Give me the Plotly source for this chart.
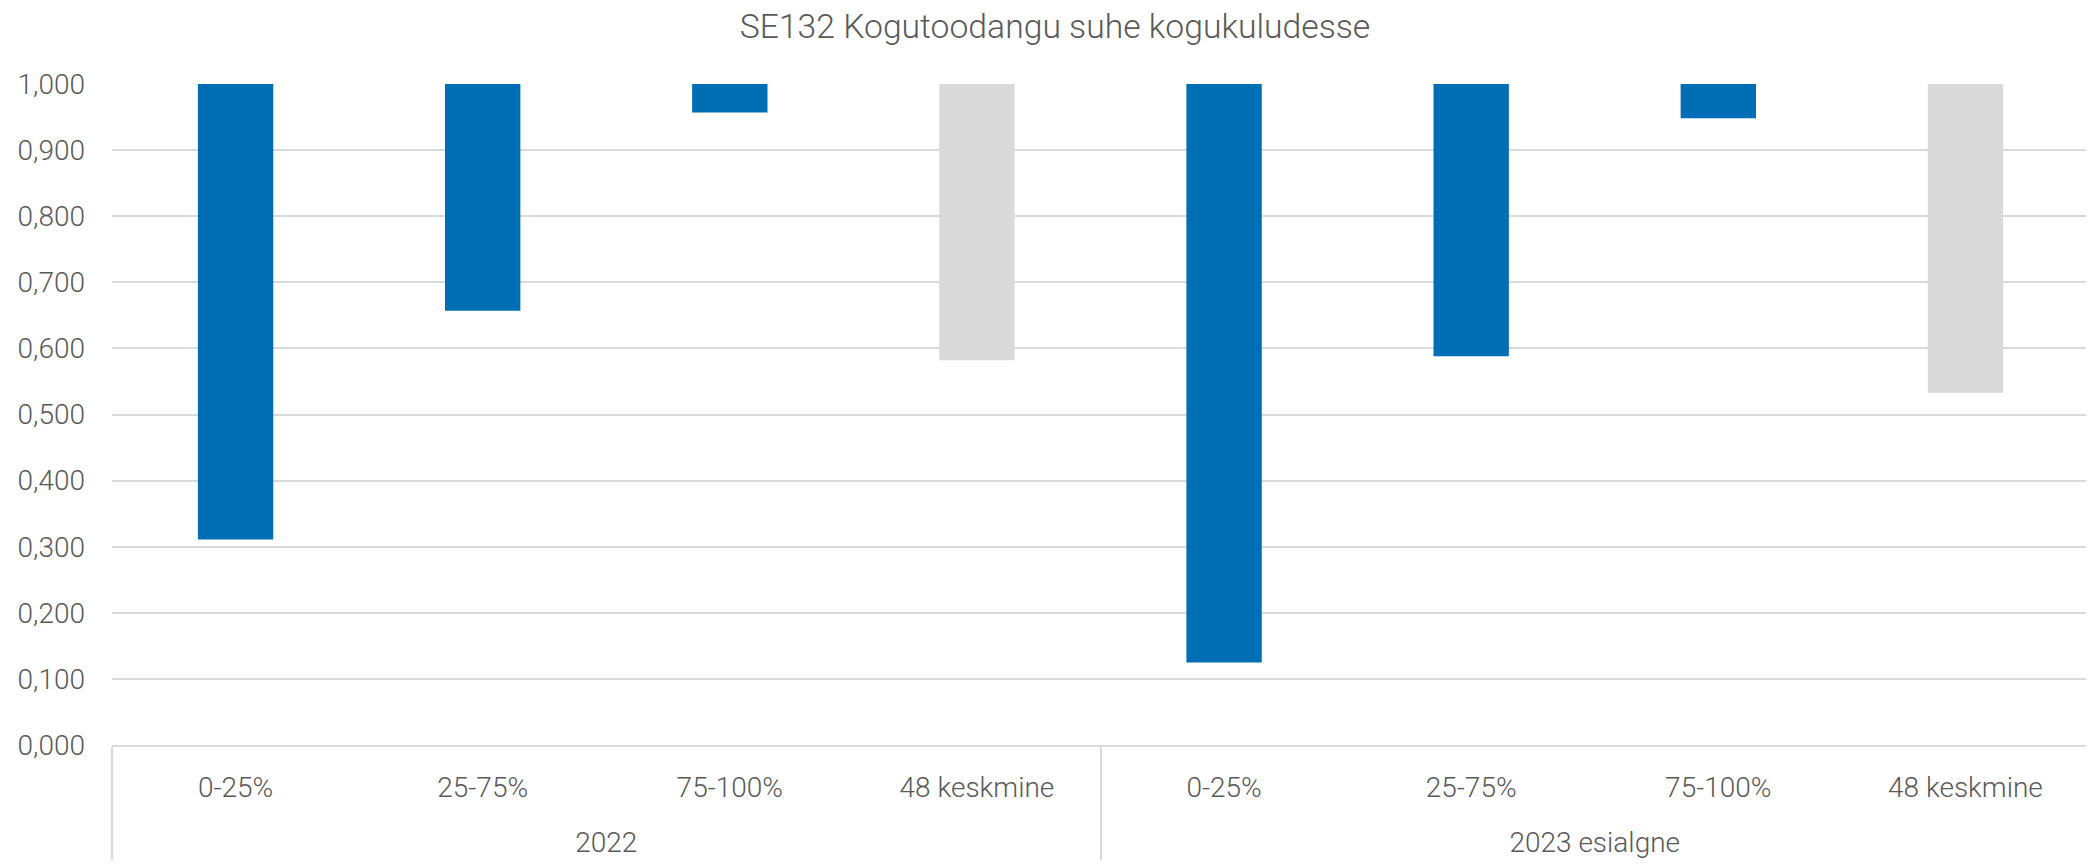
import plotly.graph_objects as go

title = "SE132 Kogutoodangu suhe kogukuludesse"
years = ["2022", "2023 esialgne"]
categories = ["0-25%", "25-75%", "75-100%", "48 keskmine"]
values_2022 = [0.311, 0.657, 0.957, 0.582]
values_2023 = [0.125, 0.588, 0.948, 0.533]
y_ticks = [0.0, 0.1, 0.2, 0.3, 0.4, 0.5, 0.6, 0.7, 0.8, 0.9, 1.0]

BLUE = "#006EB4"
GRAY = "#D9D9D9"
TEXT = "#595959"
FONT = "Roboto"

xa, xb, vals, colors = [], [], [], []
for yr, series in zip(years, [values_2022, values_2023]):
    for c, v in zip(categories, series):
        xa.append("<br>" + yr)
        xb.append(c)
        vals.append(v)
        colors.append(GRAY if c == "48 keskmine" else BLUE)

fig = go.Figure(go.Bar(
    x=[xa, xb],
    y=[v - 1 for v in vals],
    base=1,
    marker=dict(color=colors, line=dict(width=0)),
    width=0.305,
    customdata=vals,
    hovertemplate="%{customdata:.3f}<extra></extra>",
))

fig.update_layout(
    width=2094, height=864,
    paper_bgcolor="white", plot_bgcolor="white",
    margin=dict(l=104, r=13, t=76, b=127),
    separators=", ",
    font=dict(family=FONT, color=TEXT, size=28, weight=300),
    title=dict(text=title, x=0.5, xanchor="center", y=1 - 18 / 864, yanchor="middle",
               yref="container", font=dict(size=33.7, color=TEXT, family=FONT, weight=300)),
    showlegend=False,
)
fig.update_yaxes(range=[0, 1], tickvals=y_ticks, tickformat=".3f", automargin=False,
                 showgrid=True, gridcolor=GRAY, gridwidth=1.5, zeroline=False,
                 showline=False, ticks="", ticklabelstandoff=26,
                 tickfont=dict(size=28, color=TEXT, family=FONT, weight=300))
fig.update_xaxes(type="multicategory", showline=True, linecolor=GRAY, linewidth=1.5,
                 automargin=False, ticklabelstandoff=17,
                 showdividers=True, dividercolor=GRAY, dividerwidth=1.5,
                 ticks="", tickfont=dict(size=28, color=TEXT, family=FONT, weight=300))

fig.write_html("out.html")
